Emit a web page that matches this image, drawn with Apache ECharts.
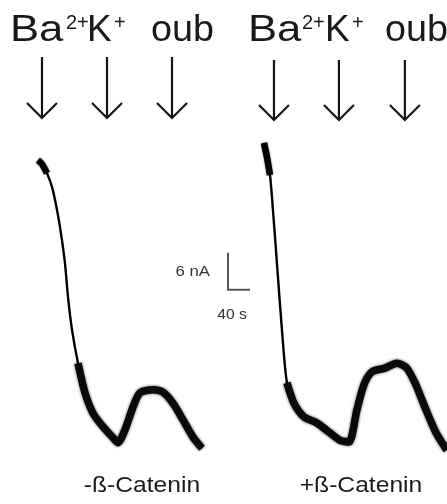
<!DOCTYPE html>
<html><head><meta charset="utf-8">
<script src="https://cdn.jsdelivr.net/npm/echarts@6/dist/echarts.min.js"></script>
<style>html,body{margin:0;padding:0;background:#fff}#c{width:447px;height:504px}</style>
</head><body><div id="c"></div>
<script>
// ---- data (time in s, current in nA, relative) ----
const leftTime = [14.5, 21.8, 30.9, 40.0, 47.3, 54.5, 63.6, 69.1, 76.4, 87.3, 100, 114.5, 132.7, 150.9, 160, 172.7, 187.3, 200, 223.6, 241.8, 260, 278.2, 296.4, 312.7];
const leftCurrent = [48.6, 48.0, 46.5, 44.3, 41.4, 37.8, 31.9, 26.4, 21.1, 15.7, 10.9, 7.6, 5.4, 3.6, 2.8, 4.9, 8.6, 10.9, 11.4, 11.0, 9.2, 6.5, 3.7, 1.9];
const rightTime = [30.9, 36.4, 41.8, 45.5, 54.5, 63.6, 72.7, 85.5, 103.6, 127.3, 150.9, 169.1, 185.5, 200, 212.7, 227.3, 250.9, 272.7, 290.9, 307.3, 323.6, 343.6, 363.6];
const rightCurrent = [51.4, 49.1, 46.2, 42.6, 31.9, 21.1, 12.5, 9.2, 7.0, 6.0, 4.4, 3.2, 2.9, 8.1, 12.2, 14.3, 14.9, 15.7, 14.9, 12.2, 8.6, 4.5, 1.6];
const leftArrowTimes = [21.8, 140.0, 258.2];
const rightArrowTimes = [49.1, 167.3, 287.3];
const conditionLabels = ['-ß-Catenin', '+ß-Catenin'];
const scaleBarCurrent = 6;   // nA
const scaleBarTime = 40;     // s
const scaleBarLabels = ['6 nA', '40 s'];

// ---- layout ----
const PX_PER_S = 22 / 40, PX_PER_NA = 37 / 6;
const BASE_Y = 460;
const Y_MAX = BASE_Y / PX_PER_NA;
const panels = [
  {left: 30, xMax: 400, arrowTop: 57, arrowTip: 118, noisyFrom: 9, headTo: 3, time: leftTime, cur: leftCurrent, arrows: leftArrowTimes},
  {left: 247, xMax: 364, arrowTop: 60, arrowTip: 120, noisyFrom: 6, headTo: 3, time: rightTime, cur: rightCurrent, arrows: rightArrowTimes}
];
const zip = (a, b) => a.map((v, i) => [v, b[i]]);

const grid = [], xAxis = [], yAxis = [], series = [];
panels.forEach((p, gi) => {
  grid.push({left: p.left, top: 0, width: p.xMax * PX_PER_S, height: BASE_Y});
  xAxis.push({type: 'value', gridIndex: gi, min: 0, max: p.xMax, show: false});
  yAxis.push({type: 'value', gridIndex: gi, min: 0, max: Y_MAX, show: false});
  const pts = zip(p.time, p.cur);
  const base = {type: 'line', xAxisIndex: gi, yAxisIndex: gi, symbol: 'none', smooth: 0.25, silent: true, clip: false};
  series.push(Object.assign({}, base, {data: pts, lineStyle: {color: '#000', width: 2.4}}));
  series.push(Object.assign({}, base, {data: pts.slice(p.noisyFrom), lineStyle: {color: '#0a0a0a', width: 7.5, shadowBlur: 3, shadowColor: 'rgba(0,0,0,0.7)'}}));
  series.push(Object.assign({}, base, {data: pts.slice(0, p.headTo), lineStyle: {color: '#000', width: 6.5, shadowBlur: 2, shadowColor: 'rgba(0,0,0,0.6)'}}));
  series.push({
    type: 'custom', xAxisIndex: gi, yAxisIndex: gi, silent: true, clip: false,
    data: p.arrows.map(t => [t, 0]),
    renderItem: (params, api) => {
      const x = api.coord([api.value(0), 0])[0];
      const st = {stroke: '#151515', lineWidth: 2.2, fill: null};
      return {type: 'group', children: [
        {type: 'line', shape: {x1: x, y1: p.arrowTop, x2: x, y2: p.arrowTip}, style: st},
        {type: 'polyline', shape: {points: [[x - 15, p.arrowTip - 15], [x, p.arrowTip], [x + 15, p.arrowTip - 15]]}, style: st}
      ]};
    }
  });
});
// scale bar in left panel coordinates
series.push({
  type: 'custom', xAxisIndex: 0, yAxisIndex: 0, silent: true, clip: false,
  data: [[360, 27.6]],
  renderItem: (params, api) => {
    const t = api.value(0), v = api.value(1);
    const a = api.coord([t, v + scaleBarCurrent]), b = api.coord([t, v]), c = api.coord([t + scaleBarTime, v]);
    return {type: 'group', children: [
      {type: 'polyline', shape: {points: [a, b, c]}, style: {stroke: '#555', lineWidth: 2, fill: null}},
      {type: 'text', x: b[0] - 18, y: (a[1] + b[1]) / 2 + 1, scaleX: 1.2, style: {text: scaleBarLabels[0], font: '14px "Liberation Sans", Arial', fill: '#333', align: 'right', verticalAlign: 'middle'}},
      {type: 'text', x: b[0] + 4, y: b[1] + 25, scaleX: 1.12, style: {text: scaleBarLabels[1], font: '14px "Liberation Sans", Arial', fill: '#333', align: 'center', verticalAlign: 'middle'}}
    ]};
  }
});

const F = '"Liberation Sans", Arial, sans-serif';
// y given as alphabetic baseline; converted to middle anchor
const hdr = (txt, x, y, size, sx) => ({type: 'text', x: x, y: y - 0.35 * size, scaleX: sx, silent: true,
  style: {text: txt, font: size + 'px ' + F, fill: '#1a1a1a', align: 'left', verticalAlign: 'middle'}});
const graphic = [];
[[10, 66, 87, 114, 151], [248, 302, 325, 352, 385]].forEach(xs => {
  graphic.push(hdr('Ba', xs[0], 44, 37, 1.18));
  graphic.push(hdr('2+', xs[1], 30, 20, 1.0));
  graphic.push(hdr('K', xs[2], 44, 37, 1.0));
  graphic.push(hdr('+', xs[3], 30, 20, 1.0));
  graphic.push(hdr('oub', xs[4], 44, 37, 1.02));
});
[[142, conditionLabels[0]], [361, conditionLabels[1]]].forEach(([cx, txt]) => {
  graphic.push({type: 'text', x: cx, y: 494 - 0.35 * 22, scaleX: 1.12, silent: true,
    style: {text: txt, font: '22px ' + F, fill: '#1a1a1a', align: 'center', verticalAlign: 'middle'}});
});

const chart = echarts.init(document.getElementById('c'), null, {renderer: 'canvas'});
chart.setOption({animation: false, backgroundColor: '#fff', grid, xAxis, yAxis, series, graphic});
</script></body></html>
